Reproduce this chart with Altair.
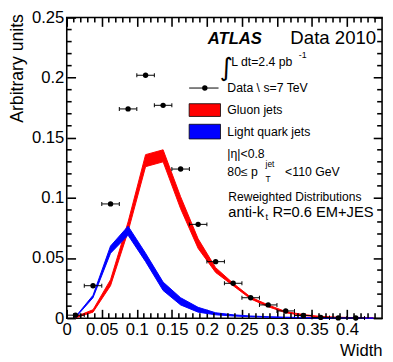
import altair as alt
import pandas as pd

# ---------------- data ----------------
bin_centers = [0.0125, 0.0375, 0.0625, 0.0875, 0.1125, 0.1375, 0.1625, 0.1875, 0.2125,
               0.2375, 0.2625, 0.2875, 0.3125, 0.3375, 0.3625, 0.3875, 0.4125]
data_y = [0.0025, 0.027, 0.095, 0.174, 0.202, 0.177, 0.124, 0.078, 0.047,
          0.029, 0.017, 0.011, 0.006, 0.0022, 0.0006, 0.0002, 0.0001]
bin_half_width = 0.0125

band_x = [0.0125, 0.0375, 0.0625, 0.0875, 0.1125, 0.1375, 0.1625, 0.1875, 0.2125,
          0.2375, 0.2625, 0.2875, 0.3125, 0.3375, 0.3625, 0.3875, 0.4125, 0.4375]
gluon_lo = [0.0003, 0.0050, 0.027, 0.072, 0.126, 0.130, 0.091, 0.058, 0.038,
            0.027, 0.0160, 0.0095, 0.0045, 0.0022, 0.0009, 0.0004, 0.0002, 0.0001]
gluon_hi = [0.0012, 0.0070, 0.032, 0.080, 0.136, 0.140, 0.101, 0.066, 0.042,
            0.029, 0.0175, 0.0110, 0.0055, 0.0030, 0.0014, 0.0008, 0.0004, 0.0002]
quark_lo = [0.0005, 0.0170, 0.054, 0.069, 0.047, 0.023, 0.011, 0.005, 0.0028,
            0.0018, 0.0012, 0.0008, 0.0005, 0.0003, 0.0002, 0.0001, 0.0001, 0.0000]
quark_hi = [0.0012, 0.0190, 0.060, 0.0765, 0.054, 0.030, 0.017, 0.009, 0.0045,
            0.0028, 0.0018, 0.0012, 0.0008, 0.0005, 0.0003, 0.0002, 0.0001, 0.0001]

x_major = [0, 0.05, 0.1, 0.15, 0.2, 0.25, 0.3, 0.35, 0.4]
x_minor = [0.01, 0.02, 0.03, 0.04, 0.06, 0.07, 0.08, 0.09, 0.11, 0.12,
           0.13, 0.14, 0.16, 0.17, 0.18, 0.19, 0.21, 0.22, 0.23, 0.24,
           0.26, 0.27, 0.28, 0.29, 0.31, 0.32, 0.33, 0.34, 0.36, 0.37, 0.38,
           0.39, 0.41, 0.42, 0.43, 0.44]
y_major = [0, 0.05, 0.1, 0.15, 0.2, 0.25]
y_minor = [0.01, 0.02, 0.03, 0.04, 0.06, 0.07, 0.08, 0.09, 0.11, 0.12,
           0.13, 0.14, 0.16, 0.17, 0.18, 0.19, 0.21, 0.22, 0.23, 0.24]

x_title = "Width"
y_title = "Arbitrary units"
legend_labels = ["Data \\ s=7 TeV", "Gluon jets", "Light quark jets"]

# ---------------- tables ----------------
pts = pd.DataFrame({"x": bin_centers, "y": data_y})
pts["xlo"] = pts["x"] - bin_half_width
pts["xhi"] = pts["x"] + bin_half_width
band = pd.DataFrame({"x": band_x, "glo": gluon_lo, "ghi": gluon_hi,
                     "qlo": quark_lo, "qhi": quark_hi})

W, H = 322, 307
xs = alt.Scale(domain=[0, 0.45], nice=False, zero=False)
ys = alt.Scale(domain=[0, 0.25], nice=False, zero=False)
MAJ, MIN = 9, 5
TW = 1.6

common = dict(domain=False, grid=False, tickColor="black", tickWidth=TW,
              labelFlush=False, labelOverlap=False)

ax_bottom_major = alt.Axis(orient="bottom", values=x_major, tickSize=MAJ, offset=-MAJ,
                           format="~g", labelPadding=4, title=x_title,
                           titleX=W, titleY=47, titleAlign="right",
                           titleBaseline="alphabetic", titleFontWeight="normal",
                           titleFontSize=17, **common)
ax_left_major = alt.Axis(orient="left", values=y_major, tickSize=MAJ, offset=-MAJ,
                         format="~g", labelPadding=3, title=y_title,
                         titleX=-59, titleY=-4, titleAlign="right", titleAngle=270,
                         titleBaseline="middle", titleFontWeight="normal",
                         titleFontSize=18, **common)
ax_top_major = alt.Axis(orient="top", values=x_major, tickSize=MAJ, offset=-MAJ,
                        labels=False, title="", **common)
ax_right_major = alt.Axis(orient="right", values=y_major, tickSize=MAJ, offset=-MAJ,
                          labels=False, title="", **common)

RED, BLUE = "#ff0000", "#0000ff"

red_band = alt.Chart(band).mark_area(color=RED, stroke=RED, strokeWidth=1, opacity=1).encode(
    x=alt.X("x:Q", scale=xs, axis=ax_bottom_major),
    y=alt.Y("glo:Q", scale=ys, axis=ax_left_major),
    y2="ghi:Q",
)
blue_band = alt.Chart(band).mark_area(color=BLUE, stroke=BLUE, strokeWidth=1, opacity=1).encode(
    x=alt.X("x:Q", scale=xs, axis=None),
    y=alt.Y("qlo:Q", scale=ys, axis=None),
    y2="qhi:Q",
)
err = alt.Chart(pts).mark_rule(color="black", strokeWidth=1).encode(
    x=alt.X("xlo:Q", scale=xs, axis=ax_top_major),
    x2="xhi:Q",
    y=alt.Y("y:Q", scale=ys, axis=ax_right_major),
)
cap_lo = alt.Chart(pts).mark_tick(color="black", orient="vertical", size=4, thickness=1,
                                  opacity=1).encode(
    x=alt.X("xlo:Q", scale=xs, axis=None), y=alt.Y("y:Q", scale=ys, axis=None))
cap_hi = alt.Chart(pts).mark_tick(color="black", orient="vertical", size=4, thickness=1,
                                  opacity=1).encode(
    x=alt.X("xhi:Q", scale=xs, axis=None), y=alt.Y("y:Q", scale=ys, axis=None))
points = alt.Chart(pts).mark_circle(color="black", size=30, opacity=1).encode(
    x=alt.X("x:Q", scale=xs, axis=None),
    y=alt.Y("y:Q", scale=ys, axis=None),
)


# inward minor tick marks (positions from the tick lists through the shared scales)
def xticks(vals, length):
    df = pd.DataFrame({"v": vals})
    out = []
    for yc in (H - length / 2, length / 2):
        out.append(alt.Chart(df).mark_tick(color="black", orient="vertical", size=length,
                                           thickness=TW, opacity=1).encode(
            x=alt.X("v:Q", scale=xs, axis=None), y=alt.value(yc)))
    return out


def yticks(vals, length):
    df = pd.DataFrame({"v": vals})
    out = []
    for xc in (length / 2, W - length / 2):
        out.append(alt.Chart(df).mark_tick(color="black", orient="horizontal", size=length,
                                           thickness=TW, opacity=1).encode(
            y=alt.Y("v:Q", scale=ys, axis=None), x=alt.value(xc)))
    return out


tick_layers = xticks(x_minor, MIN) + yticks(y_minor, MIN)

one = pd.DataFrame({"k": [0]})


def txt(s, x, y, size=12.5, align="left", baseline="middle", **kw):
    return alt.Chart(pd.DataFrame({"t": [s]})).mark_text(
        align=align, baseline=baseline, fontSize=size, color="black", **kw
    ).encode(text="t:N", x=alt.value(x), y=alt.value(y))


leg = [
    txt("ATLAS", 144, 27, size=17, baseline="alphabetic", fontWeight="bold", fontStyle="italic"),
    txt("Data 2010", 316, 27, size=19, align="right", baseline="alphabetic"),
    txt("\u222b", 156, 52, size=26, font="DejaVu Sans"),
    txt("L dt=2.4 pb", 168, 45, size=12.5),
    txt("-1", 237, 38, size=9),
    alt.Chart(one).mark_rule(color="black", strokeWidth=1).encode(
        x=alt.value(125), x2=alt.value(155), y=alt.value(72)),
    alt.Chart(one).mark_circle(color="black", size=30, opacity=1).encode(
        x=alt.value(141), y=alt.value(72)),
    txt(legend_labels[0], 164, 72),
    alt.Chart(one).mark_rect(color=RED, stroke="black", strokeWidth=0.8).encode(
        x=alt.value(125), x2=alt.value(157), y=alt.value(88), y2=alt.value(101)),
    txt(legend_labels[1], 164, 94.5),
    alt.Chart(one).mark_rect(color=BLUE, stroke="black", strokeWidth=0.8).encode(
        x=alt.value(125), x2=alt.value(157), y=alt.value(109), y2=alt.value(124)),
    txt(legend_labels[2], 164, 116.5),
    txt("|\u03b7|<0.8", 164, 139),
    txt("80\u2264 p", 164, 158),
    txt("jet", 203, 150, size=8.5),
    txt("T", 203, 165, size=8.5),
    txt("<110 GeV", 223, 158),
    txt("Reweighted Distributions", 165, 183, size=12.3),
    txt("anti-k", 165, 199, size=15),
    txt("t", 203, 204, size=9.5),
    txt("R=0.6  EM+JES", 210, 199, size=15),
]

chart = alt.layer(red_band, blue_band, err, cap_lo, cap_hi, points, *tick_layers, *leg).resolve_axis(
    x="independent", y="independent"
).properties(
    width=W, height=H,
    autosize=alt.AutoSizeParams(type="none"),
    padding={"left": 60, "top": 6, "right": 3, "bottom": 40},
).configure_view(
    stroke="black", strokeWidth=1.6
).configure_axis(
    labelFont="Liberation Sans", titleFont="Liberation Sans", labelFontSize=17,
    labelColor="black", titleColor="black", zindex=1
).configure_text(
    font="Liberation Sans"
)

chart.save("out.html", embed_options={"renderer": "svg", "actions": False})
